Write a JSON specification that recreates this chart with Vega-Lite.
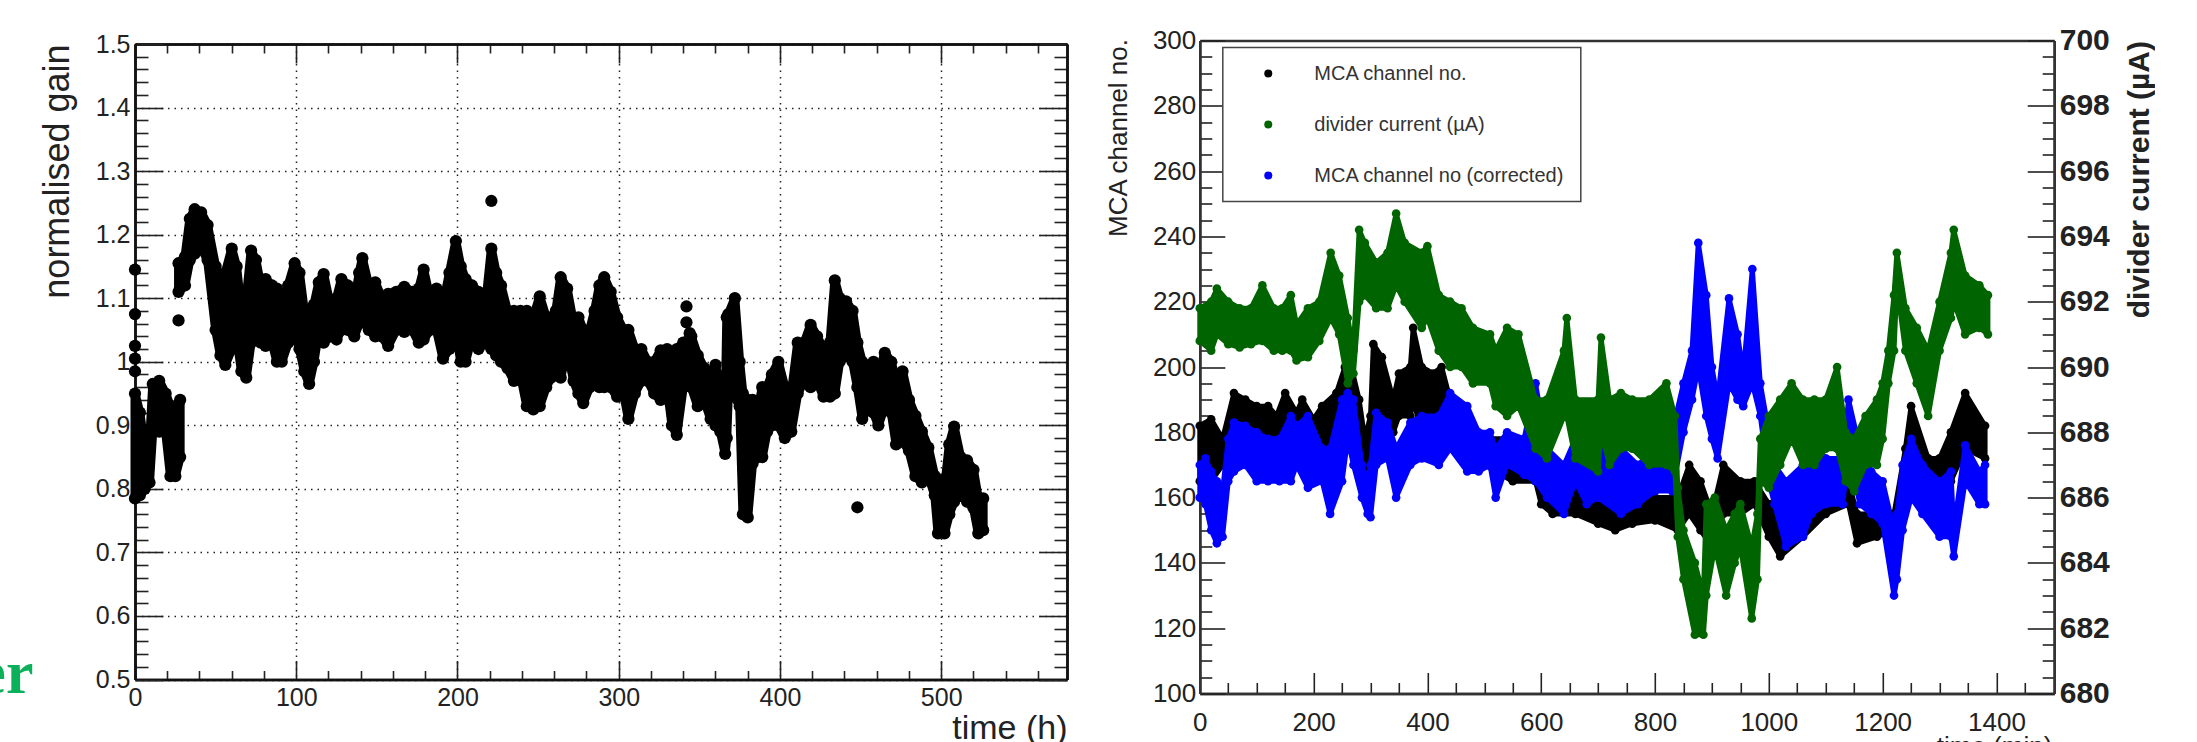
{"$schema":"https://vega.github.io/schema/vega-lite/v6.json","padding":{"left":-22,"top":25.5,"right":0,"bottom":0},"background":"white","spacing":1064.8,"bounds":"flush","config":{"view":{"stroke":null},"font":"Liberation Sans","legend":{"strokeWidth":1.5},"axis":{"domain":true,"domainColor":"#111","domainWidth":2.5,"ticks":true,"tickColor":"#222","tickWidth":1.6,"labels":false,"grid":false,"title":null,"labelColor":"#222","titleColor":"#222","labelOverlap":false,"labelFlush":false,"labelFont":"Liberation Sans","titleFont":"Liberation Sans","titleFontWeight":"normal","labelBound":false}},
"datasets":{
"gainOut":[{"t":0,"g":1.145},{"t":0,"g":1.075},{"t":0,"g":1.025},{"t":0,"g":1.005},{"t":0,"g":0.985},{"t":27,"g":1.065},{"t":221,"g":1.253},{"t":342,"g":1.087},{"t":342,"g":1.062},{"t":344,"g":1.045},{"t":448,"g":0.771}],
"gain0":[{"t":0,"g":0.785},{"t":0,"g":0.95},{"t":3,"g":0.92},{"t":3,"g":0.79},{"t":6,"g":0.80},{"t":6,"g":0.865},{"t":9,"g":0.87},{"t":9,"g":0.81},{"t":11,"g":0.89},{"t":11,"g":0.965},{"t":15,"g":0.97},{"t":15,"g":0.89},{"t":19,"g":0.89},{"t":19,"g":0.95},{"t":22,"g":0.93},{"t":22,"g":0.82},{"t":25,"g":0.82},{"t":25,"g":0.93},{"t":28,"g":0.94},{"t":28,"g":0.85}],
"gain":[{"t":27,"g":1.11},{"t":27,"g":1.155},{"t":31,"g":1.165},{"t":31,"g":1.12},{"t":34,"g":1.16},{"t":34,"g":1.225},{"t":37,"g":1.24},{"t":37,"g":1.17},{"t":41,"g":1.18},{"t":41,"g":1.235},{"t":45,"g":1.215},{"t":45,"g":1.16},{"t":50,"g":1.05},{"t":50,"g":1.15},{"t":53,"g":1.12},{"t":53,"g":1.01},{"t":56,"g":0.995},{"t":56,"g":1.14},{"t":60,"g":1.178},{"t":60,"g":1.02},{"t":63,"g":1.04},{"t":63,"g":1.15},{"t":66,"g":1.08},{"t":66,"g":0.985},{"t":69,"g":0.975},{"t":69,"g":1.1},{"t":72,"g":1.175},{"t":72,"g":1.03},{"t":75,"g":1.04},{"t":75,"g":1.16},{"t":78,"g":1.12},{"t":78,"g":1.03},{"t":81,"g":1.025},{"t":81,"g":1.13},{"t":85,"g":1.12},{"t":85,"g":1.03},{"t":88,"g":1.0},{"t":88,"g":1.115},{"t":91,"g":1.0},{"t":91,"g":1.09},{"t":95,"g":1.12},{"t":95,"g":1.03},{"t":99,"g":1.155},{"t":99,"g":1.05},{"t":102,"g":1.14},{"t":102,"g":1.02},{"t":105,"g":0.985},{"t":105,"g":1.08},{"t":108,"g":0.965},{"t":108,"g":1.08},{"t":111,"g":1.0},{"t":111,"g":1.09},{"t":114,"g":1.05},{"t":114,"g":1.125},{"t":117,"g":1.138},{"t":117,"g":1.03},{"t":121,"g":1.04},{"t":121,"g":1.09},{"t":125,"g":1.035},{"t":125,"g":1.1},{"t":128,"g":1.13},{"t":128,"g":1.05},{"t":132,"g":1.05},{"t":132,"g":1.12},{"t":136,"g":1.04},{"t":136,"g":1.09},{"t":139,"g":1.14},{"t":139,"g":1.06},{"t":141,"g":1.163},{"t":141,"g":1.07},{"t":145,"g":1.05},{"t":145,"g":1.12},{"t":149,"g":1.125},{"t":149,"g":1.04},{"t":153,"g":1.04},{"t":153,"g":1.1},{"t":157,"g":1.025},{"t":157,"g":1.107},{"t":162,"g":1.11},{"t":162,"g":1.05},{"t":167,"g":1.047},{"t":167,"g":1.118},{"t":172,"g":1.11},{"t":172,"g":1.05},{"t":176,"g":1.03},{"t":176,"g":1.115},{"t":179,"g":1.145},{"t":179,"g":1.035},{"t":183,"g":1.05},{"t":183,"g":1.1},{"t":187,"g":1.115},{"t":187,"g":1.05},{"t":191,"g":1.005},{"t":191,"g":1.09},{"t":195,"g":1.14},{"t":195,"g":1.02},{"t":199,"g":1.19},{"t":199,"g":1.05},{"t":202,"g":1.15},{"t":202,"g":1.0},{"t":205,"g":1.0},{"t":205,"g":1.13},{"t":209,"g":1.12},{"t":209,"g":1.04},{"t":213,"g":1.02},{"t":213,"g":1.11},{"t":217,"g":1.08},{"t":217,"g":1.03},{"t":221,"g":1.02},{"t":221,"g":1.178},{"t":224,"g":1.14},{"t":224,"g":1.01},{"t":227,"g":1.0},{"t":227,"g":1.12},{"t":231,"g":1.08},{"t":231,"g":0.99},{"t":235,"g":0.97},{"t":235,"g":1.08},{"t":239,"g":1.08},{"t":239,"g":0.98},{"t":243,"g":0.93},{"t":243,"g":1.08},{"t":247,"g":1.07},{"t":247,"g":0.925},{"t":251,"g":0.93},{"t":251,"g":1.103},{"t":255,"g":1.07},{"t":255,"g":0.96},{"t":258,"g":0.975},{"t":258,"g":1.07},{"t":261,"g":1.08},{"t":261,"g":0.98},{"t":264,"g":0.975},{"t":264,"g":1.133},{"t":268,"g":1.115},{"t":268,"g":1.02},{"t":272,"g":0.97},{"t":272,"g":1.06},{"t":275,"g":1.07},{"t":275,"g":0.95},{"t":278,"g":0.935},{"t":278,"g":1.05},{"t":282,"g":1.05},{"t":282,"g":0.96},{"t":285,"g":0.97},{"t":285,"g":1.08},{"t":288,"g":1.12},{"t":288,"g":0.96},{"t":291,"g":0.96},{"t":291,"g":1.133},{"t":295,"g":1.11},{"t":295,"g":0.96},{"t":299,"g":0.945},{"t":299,"g":1.07},{"t":303,"g":1.05},{"t":303,"g":0.95},{"t":306,"g":0.91},{"t":306,"g":1.05},{"t":310,"g":1.02},{"t":310,"g":0.95},{"t":314,"g":0.97},{"t":314,"g":1.02},{"t":318,"g":0.97},{"t":318,"g":1.0},{"t":322,"g":0.95},{"t":322,"g":1.0},{"t":326,"g":0.94},{"t":326,"g":1.018},{"t":330,"g":1.02},{"t":330,"g":0.96},{"t":333,"g":0.9},{"t":333,"g":0.98},{"t":336,"g":0.885},{"t":336,"g":1.02},{"t":340,"g":1.03},{"t":340,"g":0.96},{"t":345,"g":0.96},{"t":345,"g":1.04},{"t":349,"g":0.93},{"t":349,"g":1.01},{"t":353,"g":0.94},{"t":353,"g":0.99},{"t":357,"g":0.91},{"t":357,"g":0.97},{"t":360,"g":0.9},{"t":360,"g":0.995},{"t":363,"g":0.89},{"t":363,"g":0.96},{"t":366,"g":0.855},{"t":366,"g":0.92},{"t":367,"g":1.07},{"t":367,"g":0.88},{"t":368,"g":0.95},{"t":368,"g":1.075},{"t":372,"g":1.1},{"t":372,"g":0.945},{"t":375,"g":0.93},{"t":375,"g":1.0},{"t":377,"g":0.76},{"t":377,"g":0.95},{"t":380,"g":0.755},{"t":380,"g":0.94},{"t":383,"g":0.84},{"t":383,"g":0.94},{"t":386,"g":0.85},{"t":386,"g":0.92},{"t":389,"g":0.96},{"t":389,"g":0.85},{"t":392,"g":0.89},{"t":392,"g":0.96},{"t":395,"g":0.98},{"t":395,"g":0.9},{"t":399,"g":1.0},{"t":399,"g":0.9},{"t":403,"g":0.88},{"t":403,"g":0.96},{"t":407,"g":0.89},{"t":407,"g":0.95},{"t":411,"g":1.03},{"t":411,"g":0.95},{"t":415,"g":0.97},{"t":415,"g":1.03},{"t":419,"g":1.058},{"t":419,"g":0.96},{"t":423,"g":0.97},{"t":423,"g":1.04},{"t":427,"g":1.02},{"t":427,"g":0.945},{"t":431,"g":0.945},{"t":431,"g":1.03},{"t":434,"g":1.128},{"t":434,"g":0.95},{"t":437,"g":1.0},{"t":437,"g":1.1},{"t":441,"g":1.095},{"t":441,"g":1.01},{"t":445,"g":1.0},{"t":445,"g":1.08},{"t":448,"g":1.03},{"t":448,"g":0.96},{"t":451,"g":0.91},{"t":451,"g":1.0},{"t":455,"g":0.93},{"t":455,"g":0.985},{"t":458,"g":1.0},{"t":458,"g":0.92},{"t":461,"g":0.9},{"t":461,"g":0.98},{"t":465,"g":1.014},{"t":465,"g":0.93},{"t":469,"g":0.92},{"t":469,"g":1.0},{"t":472,"g":0.87},{"t":472,"g":0.97},{"t":476,"g":0.985},{"t":476,"g":0.875},{"t":480,"g":0.86},{"t":480,"g":0.94},{"t":484,"g":0.915},{"t":484,"g":0.82},{"t":488,"g":0.81},{"t":488,"g":0.89},{"t":492,"g":0.865},{"t":492,"g":0.82},{"t":496,"g":0.79},{"t":496,"g":0.82},{"t":498,"g":0.73},{"t":498,"g":0.815},{"t":502,"g":0.73},{"t":502,"g":0.8},{"t":505,"g":0.76},{"t":505,"g":0.87},{"t":508,"g":0.898},{"t":508,"g":0.78},{"t":512,"g":0.79},{"t":512,"g":0.85},{"t":516,"g":0.845},{"t":516,"g":0.78},{"t":520,"g":0.77},{"t":520,"g":0.83},{"t":523,"g":0.73},{"t":523,"g":0.785},{"t":526,"g":0.735},{"t":526,"g":0.785}],
"mca":[{"t":0,"v":165},{"t":0,"v":182},{"t":20,"v":184},{"t":20,"v":165},{"t":40,"v":170},{"t":40,"v":178},{"t":60,"v":192},{"t":60,"v":178},{"t":80,"v":180},{"t":80,"v":190},{"t":100,"v":188},{"t":100,"v":178},{"t":120,"v":178},{"t":120,"v":188},{"t":135,"v":185},{"t":135,"v":177},{"t":150,"v":178},{"t":150,"v":192},{"t":170,"v":186},{"t":170,"v":176},{"t":180,"v":176},{"t":180,"v":190},{"t":200,"v":184},{"t":200,"v":174},{"t":215,"v":176},{"t":215,"v":188},{"t":240,"v":192},{"t":240,"v":176},{"t":255,"v":185},{"t":255,"v":200},{"t":265,"v":201},{"t":265,"v":190},{"t":280,"v":175},{"t":280,"v":190},{"t":290,"v":178},{"t":290,"v":168},{"t":300,"v":172},{"t":300,"v":185},{"t":305,"v":207},{"t":305,"v":190},{"t":320,"v":185},{"t":320,"v":203},{"t":340,"v":190},{"t":340,"v":180},{"t":350,"v":185},{"t":350,"v":198},{"t":370,"v":200},{"t":370,"v":185},{"t":375,"v":190},{"t":375,"v":212},{"t":390,"v":200},{"t":390,"v":180},{"t":410,"v":182},{"t":410,"v":198},{"t":425,"v":200},{"t":425,"v":182},{"t":440,"v":175},{"t":440,"v":190},{"t":470,"v":185},{"t":470,"v":170},{"t":500,"v":170},{"t":500,"v":178},{"t":550,"v":178},{"t":550,"v":165},{"t":590,"v":165},{"t":590,"v":175},{"t":600,"v":170},{"t":600,"v":158},{"t":620,"v":155},{"t":620,"v":165},{"t":660,"v":168},{"t":660,"v":155},{"t":700,"v":152},{"t":700,"v":165},{"t":730,"v":160},{"t":730,"v":150},{"t":760,"v":152},{"t":760,"v":160},{"t":800,"v":160},{"t":800,"v":153},{"t":840,"v":150},{"t":840,"v":160},{"t":860,"v":170},{"t":860,"v":155},{"t":880,"v":150},{"t":880,"v":165},{"t":900,"v":155},{"t":900,"v":145},{"t":920,"v":155},{"t":920,"v":170},{"t":950,"v":165},{"t":950,"v":155},{"t":975,"v":158},{"t":975,"v":165},{"t":1000,"v":158},{"t":1000,"v":148},{"t":1020,"v":142},{"t":1020,"v":150},{"t":1060,"v":155},{"t":1060,"v":148},{"t":1100,"v":155},{"t":1100,"v":165},{"t":1140,"v":165},{"t":1140,"v":158},{"t":1155,"v":146},{"t":1155,"v":155},{"t":1190,"v":155},{"t":1190,"v":148},{"t":1220,"v":150},{"t":1220,"v":155},{"t":1240,"v":175},{"t":1240,"v":165},{"t":1250,"v":170},{"t":1250,"v":188},{"t":1280,"v":172},{"t":1280,"v":165},{"t":1300,"v":155},{"t":1300,"v":172},{"t":1320,"v":180},{"t":1320,"v":165},{"t":1345,"v":175},{"t":1345,"v":192},{"t":1380,"v":182},{"t":1380,"v":172}],
"cor":[{"t":0,"v":160},{"t":0,"v":170},{"t":10,"v":172},{"t":10,"v":158},{"t":20,"v":150},{"t":20,"v":168},{"t":30,"v":165},{"t":30,"v":146},{"t":40,"v":148},{"t":40,"v":162},{"t":50,"v":178},{"t":50,"v":165},{"t":60,"v":168},{"t":60,"v":183},{"t":80,"v":182},{"t":80,"v":170},{"t":100,"v":165},{"t":100,"v":180},{"t":120,"v":178},{"t":120,"v":165},{"t":140,"v":165},{"t":140,"v":178},{"t":160,"v":185},{"t":160,"v":165},{"t":170,"v":170},{"t":170,"v":182},{"t":190,"v":185},{"t":190,"v":163},{"t":215,"v":165},{"t":215,"v":175},{"t":229,"v":175},{"t":229,"v":155},{"t":250,"v":165},{"t":250,"v":190},{"t":260,"v":192},{"t":260,"v":178},{"t":270,"v":170},{"t":270,"v":190},{"t":285,"v":170},{"t":285,"v":160},{"t":295,"v":155},{"t":295,"v":165},{"t":300,"v":170},{"t":300,"v":154},{"t":310,"v":170},{"t":310,"v":186},{"t":330,"v":183},{"t":330,"v":172},{"t":345,"v":160},{"t":345,"v":175},{"t":370,"v":183},{"t":370,"v":170},{"t":390,"v":172},{"t":390,"v":185},{"t":420,"v":185},{"t":420,"v":170},{"t":440,"v":175},{"t":440,"v":192},{"t":470,"v":188},{"t":470,"v":168},{"t":490,"v":168},{"t":490,"v":180},{"t":510,"v":180},{"t":510,"v":170},{"t":520,"v":160},{"t":520,"v":175},{"t":540,"v":180},{"t":540,"v":170},{"t":570,"v":167},{"t":570,"v":178},{"t":590,"v":195},{"t":590,"v":165},{"t":610,"v":160},{"t":610,"v":175},{"t":640,"v":170},{"t":640,"v":155},{"t":660,"v":165},{"t":660,"v":178},{"t":680,"v":180},{"t":680,"v":158},{"t":700,"v":160},{"t":700,"v":175},{"t":740,"v":175},{"t":740,"v":155},{"t":770,"v":158},{"t":770,"v":170},{"t":800,"v":175},{"t":800,"v":162},{"t":830,"v":162},{"t":830,"v":180},{"t":850,"v":195},{"t":850,"v":180},{"t":865,"v":190},{"t":865,"v":205},{"t":876,"v":238},{"t":876,"v":200},{"t":890,"v":185},{"t":890,"v":222},{"t":900,"v":200},{"t":900,"v":178},{"t":910,"v":172},{"t":910,"v":190},{"t":930,"v":221},{"t":930,"v":195},{"t":945,"v":190},{"t":945,"v":210},{"t":955,"v":198},{"t":955,"v":188},{"t":971,"v":195},{"t":971,"v":230},{"t":985,"v":195},{"t":985,"v":185},{"t":1000,"v":165},{"t":1000,"v":180},{"t":1010,"v":170},{"t":1010,"v":158},{"t":1030,"v":145},{"t":1030,"v":165},{"t":1060,"v":170},{"t":1060,"v":148},{"t":1075,"v":155},{"t":1075,"v":175},{"t":1100,"v":172},{"t":1100,"v":158},{"t":1130,"v":158},{"t":1130,"v":172},{"t":1140,"v":190},{"t":1140,"v":175},{"t":1160,"v":158},{"t":1160,"v":175},{"t":1180,"v":168},{"t":1180,"v":155},{"t":1200,"v":152},{"t":1200,"v":165},{"t":1220,"v":150},{"t":1220,"v":130},{"t":1225,"v":135},{"t":1225,"v":155},{"t":1235,"v":170},{"t":1235,"v":150},{"t":1250,"v":160},{"t":1250,"v":178},{"t":1270,"v":170},{"t":1270,"v":155},{"t":1300,"v":148},{"t":1300,"v":165},{"t":1320,"v":168},{"t":1320,"v":148},{"t":1325,"v":142},{"t":1325,"v":150},{"t":1345,"v":176},{"t":1345,"v":165},{"t":1370,"v":158},{"t":1370,"v":168},{"t":1380,"v":170},{"t":1380,"v":158}],
"div":[{"t":0,"v":690.8},{"t":0,"v":691.8},{"t":20,"v":692},{"t":20,"v":690.5},{"t":30,"v":691},{"t":30,"v":692.4},{"t":50,"v":692},{"t":50,"v":690.7},{"t":70,"v":690.6},{"t":70,"v":691.8},{"t":90,"v":691.8},{"t":90,"v":690.7},{"t":110,"v":690.8},{"t":110,"v":692.5},{"t":130,"v":691.8},{"t":130,"v":690.5},{"t":145,"v":690.5},{"t":145,"v":691.8},{"t":160,"v":692.2},{"t":160,"v":690.5},{"t":170,"v":690.2},{"t":170,"v":691.3},{"t":190,"v":691.8},{"t":190,"v":690.3},{"t":210,"v":690.8},{"t":210,"v":692},{"t":230,"v":693.5},{"t":230,"v":691.5},{"t":245,"v":691},{"t":245,"v":692.8},{"t":260,"v":691.5},{"t":260,"v":689.5},{"t":270,"v":689.8},{"t":270,"v":690.5},{"t":280,"v":694.2},{"t":280,"v":692},{"t":290,"v":692.2},{"t":290,"v":693.8},{"t":310,"v":693.2},{"t":310,"v":691.8},{"t":330,"v":691.8},{"t":330,"v":693.5},{"t":345,"v":694.7},{"t":345,"v":692.5},{"t":360,"v":692},{"t":360,"v":693.8},{"t":390,"v":693.5},{"t":390,"v":691.2},{"t":400,"v":691.5},{"t":400,"v":693.7},{"t":420,"v":692.2},{"t":420,"v":690.5},{"t":440,"v":690},{"t":440,"v":692},{"t":460,"v":691.8},{"t":460,"v":690},{"t":480,"v":689.5},{"t":480,"v":691.2},{"t":510,"v":691},{"t":510,"v":689.5},{"t":520,"v":688.8},{"t":520,"v":690.5},{"t":540,"v":691.2},{"t":540,"v":688.5},{"t":560,"v":688.8},{"t":560,"v":691},{"t":590,"v":689},{"t":590,"v":687.5},{"t":610,"v":687.2},{"t":610,"v":689},{"t":640,"v":690.5},{"t":640,"v":688.5},{"t":645,"v":691.5},{"t":645,"v":688.5},{"t":660,"v":687.2},{"t":660,"v":689},{"t":700,"v":689},{"t":700,"v":686.8},{"t":705,"v":690.9},{"t":705,"v":688},{"t":720,"v":687},{"t":720,"v":689},{"t":740,"v":689.2},{"t":740,"v":687.5},{"t":760,"v":687.5},{"t":760,"v":689},{"t":790,"v":689},{"t":790,"v":687},{"t":820,"v":687},{"t":820,"v":689.5},{"t":835,"v":688.5},{"t":835,"v":686.8},{"t":840,"v":684.8},{"t":840,"v":686.3},{"t":850,"v":685},{"t":850,"v":683.5},{"t":870,"v":681.8},{"t":870,"v":684},{"t":885,"v":683},{"t":885,"v":681.8},{"t":890,"v":683},{"t":890,"v":685.8},{"t":905,"v":686},{"t":905,"v":684.5},{"t":925,"v":683},{"t":925,"v":685},{"t":940,"v":685.5},{"t":940,"v":684},{"t":950,"v":684.5},{"t":950,"v":685.8},{"t":970,"v":684.5},{"t":970,"v":682.3},{"t":980,"v":683.5},{"t":980,"v":685.5},{"t":985,"v":687.8},{"t":985,"v":686.5},{"t":1000,"v":686.3},{"t":1000,"v":688.5},{"t":1020,"v":689},{"t":1020,"v":687},{"t":1040,"v":687.8},{"t":1040,"v":689.5},{"t":1060,"v":689},{"t":1060,"v":687},{"t":1080,"v":687},{"t":1080,"v":689},{"t":1100,"v":689},{"t":1100,"v":687.5},{"t":1120,"v":687.5},{"t":1120,"v":690},{"t":1135,"v":688},{"t":1135,"v":686.5},{"t":1150,"v":686.2},{"t":1150,"v":687.8},{"t":1170,"v":688.5},{"t":1170,"v":687},{"t":1190,"v":687},{"t":1190,"v":689},{"t":1200,"v":689.5},{"t":1200,"v":687.8},{"t":1210,"v":689.5},{"t":1210,"v":690.5},{"t":1220,"v":692.2},{"t":1220,"v":690.5},{"t":1225,"v":692.5},{"t":1225,"v":693.5},{"t":1240,"v":691.8},{"t":1240,"v":690.5},{"t":1260,"v":689.5},{"t":1260,"v":691.2},{"t":1280,"v":690.5},{"t":1280,"v":688.5},{"t":1300,"v":690.5},{"t":1300,"v":692},{"t":1320,"v":693.5},{"t":1320,"v":691.5},{"t":1325,"v":694.2},{"t":1325,"v":692},{"t":1345,"v":691},{"t":1345,"v":692.8},{"t":1370,"v":692.5},{"t":1370,"v":691.2},{"t":1385,"v":691},{"t":1385,"v":692.2}]
},
"hconcat":[
{"spacing":2.5,"bounds":"flush","vconcat":[
{"width":932,"height":1,"data":{"values":[{"a":0}]},"mark":{"type":"point","opacity":0},"encoding":{}},
{"width":932,"height":635.5,"resolve":{"axis":{"x":"independent","y":"independent"}},
"encoding":{"x":{"field":"t","type":"quantitative","scale":{"domain":[0,578],"nice":false,"zero":false},"axis":null},"y":{"field":"g","type":"quantitative","scale":{"domain":[0.5,1.5],"nice":false,"zero":false},"axis":null}},
"layer":[
{"data":{"values":[{"a":0}]},"mark":{"type":"point","opacity":0},"encoding":{
"x":{"datum":0,"type":"quantitative","scale":{"domain":[0,578],"nice":false,"zero":false},"axis":{"orient":"bottom","values":[0,100,200,300,400,500],"format":"d","labels":true,"labelFontSize":25,"labelPadding":25,"tickSize":-19,"grid":true,"gridColor":"#222","gridDash":[1.5,5],"gridWidth":1.5,"title":"time (h)","titleFontSize":34,"titleAnchor":"end","titleX":932,"titleY":59,"titleAlign":"right","titleBaseline":"alphabetic"}},
"y":{"datum":1,"type":"quantitative","scale":{"domain":[0.5,1.5],"nice":false,"zero":false},"axis":{"orient":"left","values":[0.5,0.6,0.7,0.8,0.9,1,1.1,1.2,1.3,1.4,1.5],"format":".1~f","labels":true,"labelFontSize":25,"labelPadding":33,"tickSize":-28,"grid":true,"gridColor":"#222","gridDash":[1.5,5],"gridWidth":1.5,"title":"normalised gain","titleFontSize":36,"titleAngle":270,"titleAlign":"right","titleBaseline":"alphabetic","titleX":-67,"titleY":0}}}},
{"data":{"values":[{"a":0}]},"mark":{"type":"point","opacity":0},"encoding":{
"x":{"datum":0,"type":"quantitative","scale":{"domain":[0,578],"nice":false,"zero":false},"axis":{"orient":"bottom","values":[20,40,60,80,120,140,160,180,220,240,260,280,320,340,360,380,420,440,460,480,520,540,560],"tickSize":-9}},
"y":{"datum":1,"type":"quantitative","scale":{"domain":[0.5,1.5],"nice":false,"zero":false},"axis":{"orient":"left","values":[0.52,0.54,0.56,0.58,0.62,0.64,0.66,0.68,0.72,0.74,0.76,0.78,0.82,0.84,0.86,0.88,0.92,0.94,0.96,0.98,1.02,1.04,1.06,1.08,1.12,1.14,1.16,1.18,1.22,1.24,1.26,1.28,1.32,1.34,1.36,1.38,1.42,1.44,1.46,1.48],"tickSize":-13}}}},
{"data":{"values":[{"a":0}]},"mark":{"type":"point","opacity":0},"encoding":{
"x":{"datum":0,"type":"quantitative","scale":{"domain":[0,578],"nice":false,"zero":false},"axis":{"orient":"top","values":[0,100,200,300,400,500],"tickSize":-19}},
"y":{"datum":1,"type":"quantitative","scale":{"domain":[0.5,1.5],"nice":false,"zero":false},"axis":{"orient":"right","values":[0.5,0.6,0.7,0.8,0.9,1,1.1,1.2,1.3,1.4,1.5],"tickSize":-28}}}},
{"data":{"values":[{"a":0}]},"mark":{"type":"point","opacity":0},"encoding":{
"x":{"datum":0,"type":"quantitative","scale":{"domain":[0,578],"nice":false,"zero":false},"axis":{"orient":"top","values":[20,40,60,80,120,140,160,180,220,240,260,280,320,340,360,380,420,440,460,480,520,540,560],"tickSize":-9}},
"y":{"datum":1,"type":"quantitative","scale":{"domain":[0.5,1.5],"nice":false,"zero":false},"axis":{"orient":"right","values":[0.52,0.54,0.56,0.58,0.62,0.64,0.66,0.68,0.72,0.74,0.76,0.78,0.82,0.84,0.86,0.88,0.92,0.94,0.96,0.98,1.02,1.04,1.06,1.08,1.12,1.14,1.16,1.18,1.22,1.24,1.26,1.28,1.32,1.34,1.36,1.38,1.42,1.44,1.46,1.48],"tickSize":-13}}}},
{"data":{"name":"gain0"},"transform":[{"aggregate":[{"op":"min","field":"g","as":"lo"},{"op":"max","field":"g","as":"hi"}],"groupby":["t"]}],"mark":{"type":"area","color":"black","stroke":"black","strokeWidth":9,"strokeJoin":"round"},"encoding":{"y":{"field":"lo","type":"quantitative","scale":{"domain":[0.5,1.5],"nice":false,"zero":false},"axis":null},"y2":{"field":"hi"}}},
{"data":{"name":"gain"},"transform":[{"aggregate":[{"op":"min","field":"g","as":"lo"},{"op":"max","field":"g","as":"hi"}],"groupby":["t"]}],"mark":{"type":"area","color":"black","stroke":"black","strokeWidth":9,"strokeJoin":"round"},"encoding":{"y":{"field":"lo","type":"quantitative","scale":{"domain":[0.5,1.5],"nice":false,"zero":false},"axis":null},"y2":{"field":"hi"}}},
{"data":{"name":"gain0"},"mark":{"type":"circle","color":"black","size":150,"opacity":1}},
{"data":{"name":"gain"},"mark":{"type":"circle","color":"black","size":150,"opacity":1}},
{"data":{"name":"gainOut"},"mark":{"type":"circle","color":"black","size":150,"opacity":1}},
{"data":{"values":[{"t":-63,"g":0.478,"label":"er"}]},"mark":{"type":"text","font":"Liberation Serif","fontWeight":"bold","fontSize":62,"color":"#0bb05a","align":"right","baseline":"alphabetic","clip":false},"encoding":{"text":{"field":"label"}}}
]}
]},
{"width":854.4,"height":653,"resolve":{"axis":{"x":"independent","y":"independent"},"scale":{"y":"independent"}},
"encoding":{"x":{"field":"t","type":"quantitative","scale":{"domain":[0,1501.5],"nice":false,"zero":false},"axis":null}},
"layer":[
{"data":{"values":[{"a":0}]},"mark":{"type":"point","opacity":0},"encoding":{
"x":{"datum":0,"type":"quantitative","scale":{"domain":[0,1501.5],"nice":false,"zero":false},"axis":{"orient":"bottom","domainColor":"#333","values":[0,200,400,600,800,1000,1200,1400],"format":"d","labels":true,"labelFontSize":26,"labelPadding":37,"tickSize":-21,"title":"time (min)","titleFontSize":26,"titleX":852,"titleY":61,"titleAlign":"right","titleBaseline":"alphabetic"}},
"y":{"datum":200,"type":"quantitative","scale":{"domain":[100,300],"nice":false,"zero":false},"axis":{"orient":"left","domainColor":"#333","values":[100,120,140,160,180,200,220,240,260,280,300],"format":"d","labels":true,"labelFontSize":26,"labelPadding":29,"tickSize":-25,"title":"MCA channel no.","titleFontSize":26,"titleAngle":270,"titleAlign":"right","titleBaseline":"alphabetic","titleX":-73,"titleY":-2}}}},
{"data":{"values":[{"a":0}]},"mark":{"type":"point","opacity":0},"encoding":{
"x":{"datum":0,"type":"quantitative","scale":{"domain":[0,1501.5],"nice":false,"zero":false},"axis":{"orient":"bottom","domainColor":"#333","values":[50,100,150,250,300,350,450,500,550,650,700,750,850,900,950,1050,1100,1150,1250,1300,1350,1450],"tickSize":-11}},
"y":{"datum":200,"type":"quantitative","scale":{"domain":[100,300],"nice":false,"zero":false},"axis":{"orient":"left","domainColor":"#333","values":[105,110,115,125,130,135,145,150,155,165,170,175,185,190,195,205,210,215,225,230,235,245,250,255,265,270,275,285,290,295],"tickSize":-12}}}},
{"data":{"values":[{"a":0}]},"mark":{"type":"point","opacity":0},"encoding":{
"x":{"datum":0,"type":"quantitative","scale":{"domain":[0,1501.5],"nice":false,"zero":false},"axis":{"orient":"top","domainColor":"#333","values":[],"ticks":false}},
"y":{"datum":690,"type":"quantitative","scale":{"domain":[680,700],"nice":false,"zero":false},"axis":{"orient":"right","domainColor":"#333","values":[680,682,684,686,688,690,692,694,696,698,700],"format":"d","labels":true,"labelFontSize":30,"labelFontWeight":"bold","labelPadding":32,"tickSize":-27,"title":"divider current (µA)","titleFontSize":30,"titleFontWeight":"bold","titleAngle":270,"titleAlign":"right","titleBaseline":"alphabetic","titleX":94,"titleY":0}}}},
{"data":{"values":[{"a":0}]},"mark":{"type":"point","opacity":0},"encoding":{
"x":{"datum":0,"type":"quantitative","scale":{"domain":[0,1501.5],"nice":false,"zero":false},"axis":null},
"y":{"datum":690,"type":"quantitative","scale":{"domain":[680,700],"nice":false,"zero":false},"axis":{"orient":"right","domainColor":"#333","values":[680.5,681,681.5,682.5,683,683.5,684.5,685,685.5,686.5,687,687.5,688.5,689,689.5,690.5,691,691.5,692.5,693,693.5,694.5,695,695.5,696.5,697,697.5,698.5,699,699.5],"tickSize":-12}}}},
{"data":{"name":"mca"},"transform":[{"aggregate":[{"op":"min","field":"v","as":"lo"},{"op":"max","field":"v","as":"hi"}],"groupby":["t"]}],"mark":{"type":"area","color":"black","stroke":"black","strokeWidth":5,"strokeJoin":"round"},"encoding":{"y":{"field":"lo","type":"quantitative","scale":{"domain":[100,300],"nice":false,"zero":false},"axis":null},"y2":{"field":"hi"}}},
{"data":{"name":"mca"},"mark":{"type":"circle","size":75,"opacity":1},"encoding":{"y":{"field":"v","type":"quantitative","scale":{"domain":[100,300],"nice":false,"zero":false},"axis":null},"color":{"datum":"MCA channel no.","scale":{"domain":["MCA channel no.","divider current (µA)","MCA channel no (corrected)"],"range":["black","#006400","#0000ff"]},"legend":{"orient":"none","legendX":1087.8,"legendY":7,"title":null,"symbolType":"circle","symbolSize":65,"labelFontSize":20,"labelLimit":400,"labelColor":"#333","rowPadding":31,"padding":16,"symbolOffset":19.5,"labelOffset":36,"strokeColor":"#444","fillColor":"white"}}}},
{"data":{"name":"cor"},"transform":[{"aggregate":[{"op":"min","field":"v","as":"lo"},{"op":"max","field":"v","as":"hi"}],"groupby":["t"]}],"mark":{"type":"area","color":"#0000ff","stroke":"#0000ff","strokeWidth":5,"strokeJoin":"round"},"encoding":{"y":{"field":"lo","type":"quantitative","scale":{"domain":[100,300],"nice":false,"zero":false},"axis":null},"y2":{"field":"hi"}}},
{"data":{"name":"cor"},"mark":{"type":"circle","size":75,"opacity":1},"encoding":{"y":{"field":"v","type":"quantitative","scale":{"domain":[100,300],"nice":false,"zero":false},"axis":null},"color":{"datum":"MCA channel no (corrected)"}}},
{"data":{"name":"div"},"transform":[{"aggregate":[{"op":"min","field":"v","as":"lo"},{"op":"max","field":"v","as":"hi"}],"groupby":["t"]}],"mark":{"type":"area","color":"#006400","stroke":"#006400","strokeWidth":5,"strokeJoin":"round"},"encoding":{"y":{"field":"lo","type":"quantitative","scale":{"domain":[680,700],"nice":false,"zero":false},"axis":null},"y2":{"field":"hi"}}},
{"data":{"name":"div"},"mark":{"type":"circle","size":75,"opacity":1},"encoding":{"y":{"field":"v","type":"quantitative","scale":{"domain":[680,700],"nice":false,"zero":false},"axis":null},"color":{"datum":"divider current (µA)"}}}
]}
]}
